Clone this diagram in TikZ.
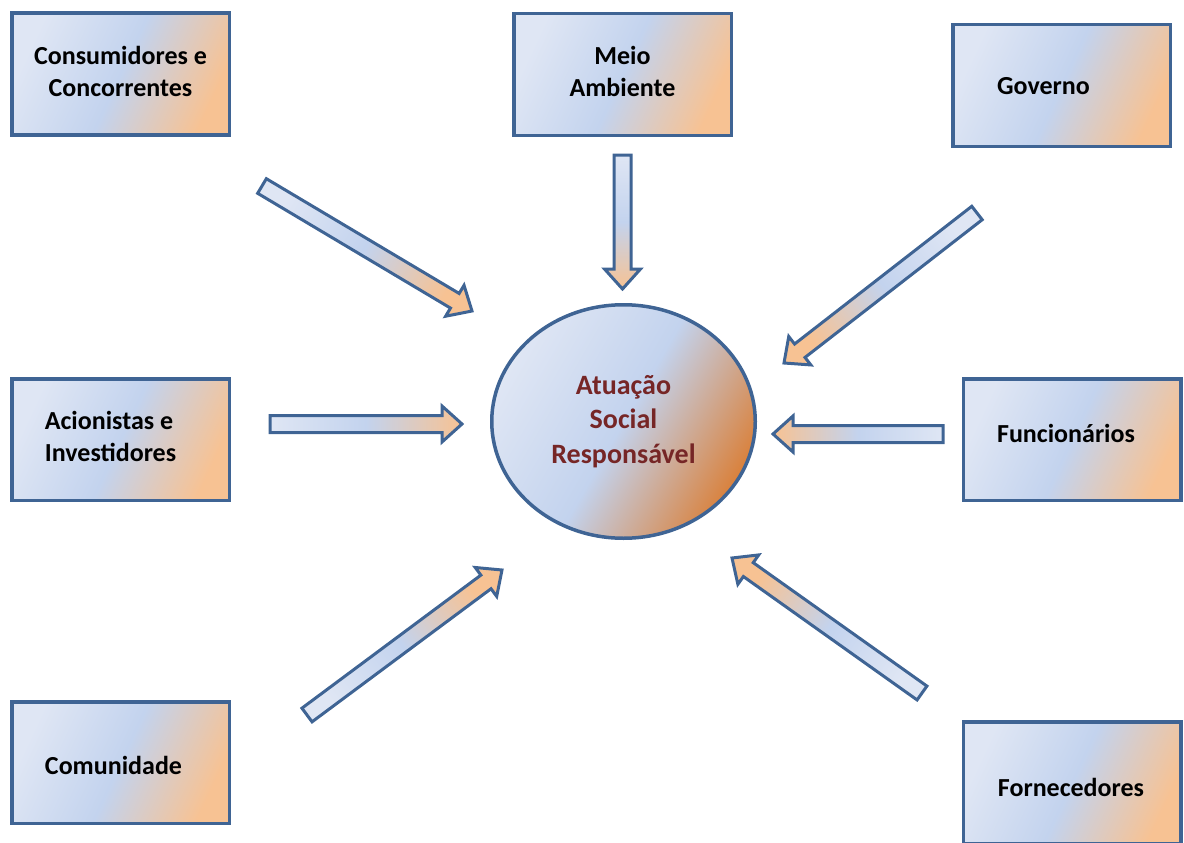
\documentclass[tikz,border=0pt]{standalone}
\usepackage{fontspec}
\setmainfont{Carlito}
\usetikzlibrary{calc,shapes.geometric}

\definecolor{edge}{HTML}{3F6494}
\definecolor{paleblue}{HTML}{DFE6F4}
\definecolor{midblue}{HTML}{C3D3EE}
\definecolor{peach}{HTML}{F7C293}
\definecolor{rust}{HTML}{D9823E}
\definecolor{wine}{HTML}{762626}

\tikzset{
  party/.style={draw=edge, line width=3.5pt, left color=paleblue, right color=peach,
    middle color=midblue, shading angle=65, minimum width=217.5pt, minimum height=121.5pt},
  tag/.style={font=\fontsize{26}{32}\selectfont\bfseries, align=center, inner sep=0pt},
  core/.style={ellipse, draw=edge, line width=3.5pt, left color=paleblue, right color=rust,
    middle color=midblue, shading angle=60, minimum width=263.5pt, minimum height=233.5pt,
    inner sep=0pt, text=wine, font=\fontsize{28}{34.5}\selectfont\bfseries, align=center},
  push/.style={draw=edge, line width=3pt, line join=miter, left color=paleblue,
    right color=peach, middle color=midblue}
}

% block arrow from tail #1 to tip #2, shading angle #3
\newcommand{\flowarrow}[3]{%
  \coordinate (#1-#2) at ($(#2)!20pt!(#1)$);
  \path[push, shading angle=#3] ($(#1)!8.5pt!90:(#2)$) -- ($(#1-#2)!8.5pt!90:(#2)$)
    -- ($(#1-#2)!18pt!90:(#2)$) -- (#2) -- ($(#1-#2)!18pt!-90:(#2)$)
    -- ($(#1-#2)!8.5pt!-90:(#2)$) -- ($(#1)!8.5pt!-90:(#2)$) -- cycle;
}

\begin{document}
\begin{tikzpicture}[x=1pt,y=-1pt]
    \useasboundingbox (0,0) rectangle (1184,843);
    % centre
    \node[core] (acao) at (623.5,421.5) {Atuação\\Social\\Responsável};
    % stakeholders
    \node[party, label={[tag, yshift=3pt]center:Consumidores e\\Concorrentes}] (cons) at (120.5,74) {};
    \node[party, label={[tag, yshift=3pt]center:Meio\\Ambiente}] (meio) at (622.5,74.5) {};
    \node[party, label={[tag, xshift=-18pt, yshift=-1pt]center:Governo}] (gov) at (1061.5,85.5) {};
    \node[party, label={[tag, align=left, xshift=-10pt, yshift=3pt]center:Acionistas e\\Investidores}] (acio) at (120.5,439.5) {};
    \node[party, label={[tag, xshift=-6pt, yshift=6pt]center:Funcionários}] (func) at (1072,439.5) {};
    \node[party, label={[tag, xshift=-7pt, yshift=-3pt]center:Comunidade}] (comu) at (120.5,762.5) {};
    \node[party, label={[tag, xshift=-1pt, yshift=-5pt]center:Fornecedores}] (forn) at (1072,782.5) {};
    % arrow ends
    \coordinate (consT) at (262,186);   \coordinate (consP) at (472,311);
    \coordinate (meioT) at (622.5,155); \coordinate (meioP) at (622.5,289);
    \coordinate (govT) at (977,213);    \coordinate (govP) at (784,363);
    \coordinate (acioT) at (270,424);   \coordinate (acioP) at (462,424);
    \coordinate (funcT) at (943,434);   \coordinate (funcP) at (773,434);
    \coordinate (comuT) at (307,715);   \coordinate (comuP) at (502,570);
    \coordinate (fornT) at (922,693);   \coordinate (fornP) at (732,558);
    % arrows
    \flowarrow{consT}{consP}{59}
    \flowarrow{meioT}{meioP}{0}
    \flowarrow{govT}{govP}{-52}
    \flowarrow{acioT}{acioP}{90}
    \flowarrow{funcT}{funcP}{270}
    \flowarrow{comuT}{comuP}{127}
    \flowarrow{fornT}{fornP}{235}
\end{tikzpicture}
\end{document}
